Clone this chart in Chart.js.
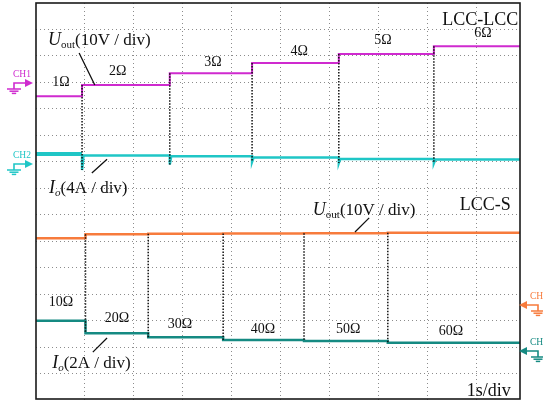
<!DOCTYPE html>
<html>
<head>
<meta charset="utf-8">
<script src="https://cdn.jsdelivr.net/npm/chart.js@4"></script>
<style>
html, body { margin: 0; padding: 0; background: #fff; }
#wrap { width: 543px; height: 400px; }
</style>
</head>
<body>
<div id="wrap"><canvas id="scope"></canvas></div>
<script>
// time axis: 1 s/div, amplitude in screen divisions counted from the bottom
const X_MAX = 9.878;
const Y_MAX = 15;
const xTicks = [1, 2, 3, 4, 5, 6, 7, 8, 9];
const yTicks = [1, 2, 3, 4, 5, 6, 7, 8, 9, 10, 11, 12, 13, 14];

// upper capture: LCC-LCC
const lccSwitchT = [0.94, 2.73, 4.41, 6.18, 8.12];
const lccLoads = ['1Ω', '2Ω', '3Ω', '4Ω', '5Ω', '6Ω'];
const lccUout = [11.48, 11.90, 12.35, 12.73, 13.07, 13.37];
const lccIo = [9.29, 9.24, 9.21, 9.16, 9.11, 9.09];
const lccIoDip = [8.69, 8.90, 9.00, 8.95, 8.95];

// lower capture: LCC-S
const lcsSwitchT = [1.01, 2.29, 3.82, 5.47, 7.18];
const lcsLoads = ['10Ω', '20Ω', '30Ω', '40Ω', '50Ω', '60Ω'];
const lcsUout = [6.11, 6.26, 6.28, 6.29, 6.30, 6.32];
const lcsIo = [2.99, 2.52, 2.37, 2.27, 2.23, 2.16];

// where the load labels sit (x: s, y: div)
const lccLoadPos = [[0.51, 11.86], [1.67, 12.28], [3.61, 12.62], [5.37, 13.03], [7.08, 13.45], [9.12, 13.71]];
const lcsLoadPos = [[0.51, 3.55], [1.65, 2.95], [2.94, 2.72], [4.63, 2.53], [6.37, 2.53], [8.47, 2.46]];

// pointer lines from the scale notes to the traces
const leaders = [
    [0.88, 13.11, 1.20, 11.90],
    [1.14, 8.58, 1.45, 9.10],
    [6.80, 6.88, 6.51, 6.35],
    [1.45, 2.34, 1.16, 1.81]
];

const MAGENTA = '#cf2acf';
const CYAN = '#1fc6c6';
const ORANGE = '#f77b3c';
const TEAL = '#158a82';
const GRID = 'rgba(120,120,120,0.85)';
const SERIF = "'Liberation Serif', 'Times New Roman', serif";

function stepPoints(ts, lv, dips) {
    const pts = [{ x: 0, y: lv[0] }];
    ts.forEach((t, i) => {
        pts.push({ x: t, y: lv[i] });
        if (dips) {
            pts.push({ x: t, y: dips[i] });
            pts.push({ x: t + 0.03, y: lv[i + 1] });
        } else {
            pts.push({ x: t, y: lv[i + 1] });
        }
    });
    pts.push({ x: X_MAX, y: lv[lv.length - 1] });
    return pts;
}

// black dotted markers at every switching instant
function switchMarks() {
    const pts = [];
    lccSwitchT.forEach((t, i) => {
        pts.push({ x: t, y: lccUout[i + 1] }, { x: t, y: lccIoDip[i] }, { x: t, y: null });
    });
    lcsSwitchT.forEach((t, i) => {
        pts.push({ x: t, y: lcsUout[i + 1] }, { x: t, y: lcsIo[i + 1] }, { x: t, y: null });
    });
    return pts;
}

function leaderPoints() {
    const pts = [];
    leaders.forEach(l => {
        pts.push({ x: l[0], y: l[1] }, { x: l[2], y: l[3] }, { x: l[2], y: null });
    });
    return pts;
}

function rich(ctx, x, y, parts, align) {
    let w = 0;
    parts.forEach(p => { ctx.font = p[1]; w += ctx.measureText(p[0]).width; });
    let cx = align === 'right' ? x - w : x;
    ctx.textAlign = 'left';
    parts.forEach(p => {
        ctx.font = p[1];
        ctx.fillText(p[0], cx, y + (p[2] || 0));
        cx += ctx.measureText(p[0]).width;
    });
}

// channel ground marker, dir 1 = arrow to the right, -1 = to the left
function gndMarker(ctx, gx, ay, dir, color, label, lx) {
    ctx.save();
    ctx.strokeStyle = color;
    ctx.fillStyle = color;
    ctx.lineWidth = 1.6;
    ctx.beginPath();
    ctx.moveTo(gx, ay + 6);
    ctx.lineTo(gx, ay);
    ctx.lineTo(gx + dir * 12, ay);
    ctx.stroke();
    ctx.beginPath();
    ctx.moveTo(gx + dir * 11, ay - 4);
    ctx.lineTo(gx + dir * 19, ay);
    ctx.lineTo(gx + dir * 11, ay + 4);
    ctx.closePath();
    ctx.fill();
    ctx.lineWidth = 1.5;
    [[6, 7], [8.2, 4.5], [10.4, 2.2]].forEach(g => {
        ctx.beginPath();
        ctx.moveTo(gx - g[1], ay + g[0]);
        ctx.lineTo(gx + g[1], ay + g[0]);
        ctx.stroke();
    });
    ctx.font = '9.5px ' + SERIF;
    ctx.textAlign = 'center';
    ctx.fillText(label, lx, ay - 6);
    ctx.restore();
}

const scopeDecor = {
    id: 'scopeDecor',
    afterDraw(chart) {
        const ctx = chart.ctx;
        const a = chart.chartArea;
        const sx = chart.scales.x;
        const sy = chart.scales.y;
        const px = v => sx.getPixelForValue(v);
        const py = v => sy.getPixelForValue(v);

        ctx.save();
        ctx.strokeStyle = '#1a1a1a';
        ctx.lineWidth = 1.6;
        ctx.strokeRect(a.left, a.top, a.right - a.left, a.bottom - a.top - 1);

        ctx.fillStyle = '#111';
        ctx.textBaseline = 'alphabetic';
        ctx.font = '14px ' + SERIF;
        ctx.textAlign = 'center';
        lccLoads.forEach((t, i) => ctx.fillText(t, px(lccLoadPos[i][0]), py(lccLoadPos[i][1])));
        lcsLoads.forEach((t, i) => ctx.fillText(t, px(lcsLoadPos[i][0]), py(lcsLoadPos[i][1])));

        const big = '17px ' + SERIF;
        const it = 'italic 18px ' + SERIF;
        const sub = '11px ' + SERIF;
        const subIt = 'italic 11px ' + SERIF;
        rich(ctx, px(0.245), py(13.41), [['U', it], ['out', sub, 3], ['(10V / div)', big]]);
        rich(ctx, px(0.265), py(7.82), [['I', it], ['o', subIt, 3], ['(4A / div)', big]]);
        rich(ctx, px(5.65), py(6.99), [['U', it], ['out', sub, 3], ['(10V / div)', big]]);
        rich(ctx, px(0.33), py(1.21), [['I', it], ['o', subIt, 3], ['(2A / div)', big]]);

        ctx.font = '18px ' + SERIF;
        ctx.textAlign = 'right';
        ctx.fillText('LCC-LCC', px(9.84), py(14.17));
        ctx.fillText('LCC-S', px(9.69), py(7.18));
        ctx.fillText('1s/div', px(9.69), py(0.15));
        ctx.restore();

        gndMarker(ctx, 14, 83, 1, MAGENTA, 'CH1', 22);
        gndMarker(ctx, 14, 164, 1, CYAN, 'CH2', 22);
        gndMarker(ctx, 538, 305, -1, ORANGE, 'CH3', 539);
        gndMarker(ctx, 538, 351, -1, TEAL, 'CH4', 539);
    }
};

new Chart(document.getElementById('scope'), {
    type: 'line',
    data: {
        datasets: [
            {
                data: switchMarks(),
                borderColor: '#111',
                borderWidth: 1.5,
                borderDash: [1.5, 1.5],
                spanGaps: false
            },
            {
                data: leaderPoints(),
                borderColor: '#111',
                borderWidth: 1.3,
                spanGaps: false
            },
            {
                data: stepPoints(lccSwitchT, lccUout),
                borderColor: MAGENTA,
                borderWidth: 2
            },
            {
                data: stepPoints(lccSwitchT, lccIo, lccIoDip),
                borderColor: CYAN,
                borderWidth: 2.5,
                segment: {
                    borderWidth: c => c.p0DataIndex === 0 ? 4 : 2.5
                }
            },
            {
                data: stepPoints(lcsSwitchT, lcsUout),
                borderColor: ORANGE,
                borderWidth: 2.5
            },
            {
                data: stepPoints(lcsSwitchT, lcsIo),
                borderColor: TEAL,
                borderWidth: 2.5
            }
        ]
    },
    options: {
        responsive: true,
        maintainAspectRatio: false,
        animation: false,
        layout: { padding: { left: 36, right: 23, top: 3, bottom: 0 } },
        plugins: {
            legend: { display: false },
            tooltip: { enabled: false }
        },
        elements: {
            point: { radius: 0 },
            line: { tension: 0 }
        },
        scales: {
            x: {
                type: 'linear',
                min: 0,
                max: X_MAX,
                ticks: { display: false },
                grid: { color: GRID, drawTicks: false, lineWidth: 1 },
                border: { display: false, dash: [1, 3] },
                afterBuildTicks: s => { s.ticks = xTicks.map(v => ({ value: v })); }
            },
            y: {
                type: 'linear',
                min: 0,
                max: Y_MAX,
                ticks: { display: false },
                grid: { color: GRID, drawTicks: false, lineWidth: 1 },
                border: { display: false, dash: [1, 3] },
                afterBuildTicks: s => { s.ticks = yTicks.map(v => ({ value: v })); }
            }
        }
    },
    plugins: [scopeDecor]
});
</script>
</body>
</html>
